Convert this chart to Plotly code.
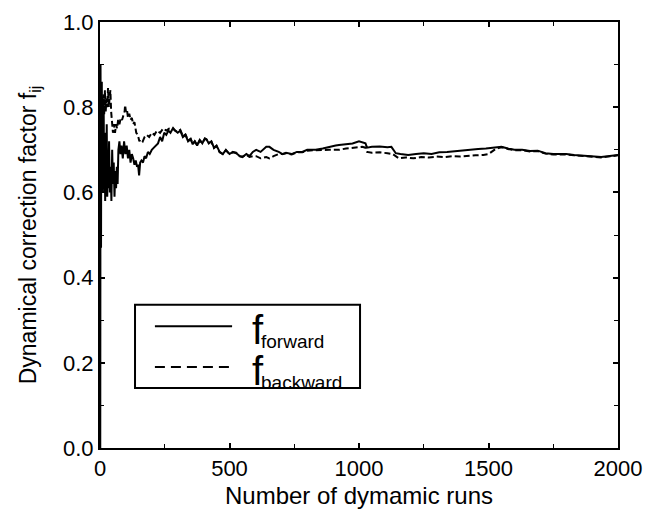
import plotly.graph_objects as go

# ---- data ----
fwd_runs = [0, 1, 2, 3, 4, 5, 6, 7, 8, 10, 12, 14, 16, 18, 20, 22, 24, 26, 28, 30, 32, 35, 38, 41, 44, 47,
            50, 53, 56, 59, 62, 65, 68, 71, 75, 79, 83, 88, 93, 98, 103, 108, 113, 118, 123, 128, 133,
            138, 143, 147, 151, 155, 160, 166, 172, 178, 185, 192, 200, 208, 216, 224, 232, 240, 248,
            256, 264, 272, 281, 290, 300, 310, 320, 330, 340, 350, 358, 366, 375, 385, 395, 405, 411,
            420, 430, 440, 450, 462, 474, 486, 500, 513, 526, 540, 550, 565, 577, 590, 603, 620, 642,
            654, 670, 690, 705, 718, 740, 760, 781, 800, 833, 860, 885, 910, 923, 950, 975, 1000, 1012,
            1025, 1031, 1050, 1080, 1110, 1125, 1142, 1160, 1190, 1220, 1250, 1280, 1310, 1340, 1370,
            1400, 1430, 1460, 1490, 1520, 1550, 1575, 1600, 1630, 1660, 1690, 1720, 1750, 1770, 1800,
            1830, 1860, 1890, 1920, 1935, 1960, 1980, 2000]
fwd_vals = [0.0, 0.0, 0.90, 0.62, 0.47, 0.80, 0.70, 0.86, 0.60, 0.78, 0.63, 0.82, 0.60, 0.74, 0.58, 0.70,
            0.62, 0.76, 0.59, 0.68, 0.61, 0.72, 0.60, 0.66, 0.58, 0.70, 0.62, 0.67, 0.59, 0.65, 0.61,
            0.66, 0.62, 0.70, 0.72, 0.69, 0.71, 0.68, 0.72, 0.69, 0.71, 0.68, 0.70, 0.67, 0.69, 0.68,
            0.665, 0.675, 0.66, 0.665, 0.64, 0.67, 0.675, 0.67, 0.685, 0.68, 0.695, 0.69, 0.70, 0.705,
            0.71, 0.715, 0.73, 0.72, 0.74, 0.735, 0.745, 0.74, 0.75, 0.745, 0.74, 0.745, 0.73, 0.735,
            0.72, 0.725, 0.713, 0.72, 0.71, 0.723, 0.715, 0.727, 0.725, 0.715, 0.72, 0.705, 0.71, 0.695,
            0.69, 0.70, 0.69, 0.695, 0.692, 0.685, 0.683, 0.69, 0.685, 0.695, 0.70, 0.695, 0.707, 0.707,
            0.70, 0.695, 0.69, 0.693, 0.69, 0.695, 0.695, 0.70, 0.70, 0.703, 0.707, 0.71, 0.711, 0.713,
            0.715, 0.72, 0.718, 0.715, 0.705, 0.707, 0.708, 0.706, 0.707, 0.692, 0.69, 0.688, 0.69,
            0.692, 0.69, 0.694, 0.695, 0.697, 0.698, 0.70, 0.702, 0.703, 0.705, 0.707, 0.703, 0.70,
            0.70, 0.697, 0.698, 0.692, 0.69, 0.69, 0.69, 0.688, 0.687, 0.686, 0.684, 0.683, 0.685,
            0.686, 0.688]

bwd_runs = [0, 2, 4, 6, 8, 10, 13, 16, 19, 22, 25, 28, 31, 34, 37, 40, 43, 46, 50, 54, 58, 62, 66, 70,
            75, 80, 85, 90, 95, 97, 100, 104, 108, 113, 118, 123, 128, 133, 140, 146, 152, 158, 165,
            172, 180, 190, 200, 210, 220, 232, 244, 256, 268, 281, 290, 300, 310, 320, 330, 340, 350,
            358, 366, 375, 385, 395, 405, 411, 420, 430, 440, 450, 462, 474, 486, 500, 513, 526, 540,
            550, 565, 577, 590, 603, 620, 642, 654, 670, 690, 705, 718, 740, 760, 781, 800, 833, 860,
            885, 910, 923, 950, 975, 1000, 1012, 1025, 1031, 1050, 1080, 1110, 1130, 1154, 1180, 1210,
            1240, 1270, 1300, 1330, 1360, 1390, 1420, 1450, 1480, 1500, 1530, 1550, 1575, 1600, 1630,
            1660, 1690, 1720, 1750, 1770, 1800, 1830, 1860, 1890, 1920, 1935, 1960, 1980, 2000]
bwd_vals = [0.83, 0.80, 0.84, 0.79, 0.82, 0.80, 0.83, 0.78, 0.84, 0.79, 0.82, 0.80, 0.845, 0.80, 0.82,
            0.84, 0.79, 0.76, 0.74, 0.76, 0.74, 0.76, 0.75, 0.77, 0.76, 0.775, 0.77, 0.78, 0.79, 0.805,
            0.79, 0.795, 0.775, 0.785, 0.77, 0.775, 0.76, 0.765, 0.74, 0.735, 0.72, 0.725, 0.72, 0.73,
            0.735, 0.73, 0.74, 0.735, 0.745, 0.74, 0.75, 0.745, 0.75, 0.752, 0.745, 0.742, 0.747,
            0.732, 0.736, 0.722, 0.726, 0.714, 0.72, 0.711, 0.722, 0.716, 0.726, 0.724, 0.716, 0.719,
            0.704, 0.709, 0.694, 0.69, 0.699, 0.69, 0.694, 0.693, 0.685, 0.684, 0.688, 0.683, 0.685,
            0.685, 0.68, 0.683, 0.68, 0.685, 0.69, 0.69, 0.692, 0.689, 0.694, 0.694, 0.698, 0.699,
            0.70, 0.70, 0.70, 0.70, 0.703, 0.705, 0.707, 0.707, 0.705, 0.695, 0.693, 0.694, 0.692,
            0.69, 0.68, 0.682, 0.68, 0.683, 0.682, 0.684, 0.683, 0.685, 0.684, 0.686, 0.687, 0.688,
            0.69, 0.703, 0.706, 0.702, 0.699, 0.699, 0.696, 0.697, 0.691, 0.689, 0.689, 0.689, 0.687,
            0.686, 0.685, 0.683, 0.682, 0.684, 0.685, 0.687]

x_ticks = [0, 500, 1000, 1500, 2000]
y_ticks = [0.0, 0.2, 0.4, 0.6, 0.8, 1.0]
y_tick_text = ["0.0", "0.2", "0.4", "0.6", "0.8", "1.0"]

FONT = "Liberation Sans, Arial, sans-serif"

fig = go.Figure()
fig.add_trace(go.Scatter(x=fwd_runs, y=fwd_vals, mode="lines",
                         line=dict(color="black", width=2), showlegend=False))
fig.add_trace(go.Scatter(x=bwd_runs, y=bwd_vals, mode="lines",
                         line=dict(color="black", width=2, dash="6px,3px"), showlegend=False))

# legend box drawn manually
fig.add_shape(type="rect", xref="paper", yref="paper", x0=0.0676, x1=0.502, y0=0.141, y1=0.336,
              line=dict(color="black", width=2), fillcolor="white", layer="above")
fig.add_shape(type="line", xref="paper", yref="paper", x0=0.106, x1=0.255, y0=0.286, y1=0.286,
              line=dict(color="black", width=2))
fig.add_shape(type="line", xref="paper", yref="paper", x0=0.106, x1=0.255, y0=0.190, y1=0.190,
              line=dict(color="black", width=2, dash="10px,6px"))
for yb, sub in [(0.277, "forward"), (0.180, "backward")]:
    fig.add_annotation(xref="paper", yref="paper", x=0.289, y=yb, text="f", showarrow=False,
                       xanchor="left", yanchor="middle", font=dict(family=FONT, size=40, color="black"))
    fig.add_annotation(xref="paper", yref="paper", x=0.306, y=yb - 0.026, text=sub, showarrow=False,
                       xanchor="left", yanchor="middle", font=dict(family=FONT, size=19, color="black"))

axis_common = dict(showline=True, linecolor="black", linewidth=2, mirror="allticks",
                   ticks="inside", ticklen=5, tickwidth=1.5, tickcolor="black",
                   showgrid=False, zeroline=False,
                   tickfont=dict(family=FONT, size=22, color="black"))

fig.update_xaxes(range=[0, 2000], tickvals=x_ticks,
                 minor=dict(dtick=250, ticks="inside", ticklen=4, tickwidth=1.2, tickcolor="black"),
                 title=dict(text="Number of dymamic runs", font=dict(family=FONT, size=24, color="black"),
                            standoff=7),
                 **axis_common)
fig.update_yaxes(range=[0, 1], tickvals=y_ticks, ticktext=y_tick_text,
                 minor=dict(dtick=0.1, ticks="inside", ticklen=4, tickwidth=1.2, tickcolor="black"),
                 title=dict(text="Dynamical correction factor f<sub>ij</sub>",
                            font=dict(family=FONT, size=23, color="black"), standoff=20),
                 **axis_common)

fig.update_layout(width=645, height=512, margin=dict(l=100, r=27, t=22, b=64, autoexpand=False),
                  paper_bgcolor="white", plot_bgcolor="white", showlegend=False)

fig.write_html("out.html")
